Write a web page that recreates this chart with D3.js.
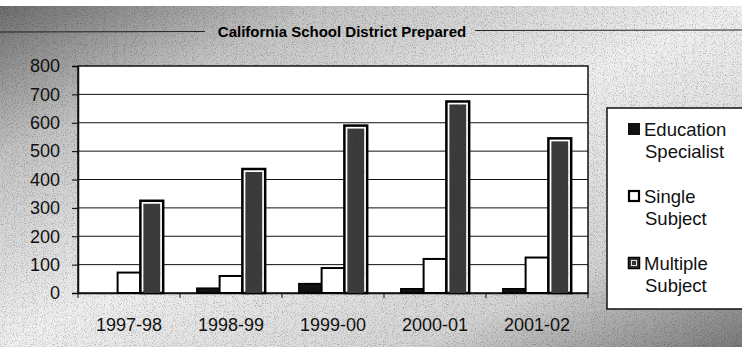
<!DOCTYPE html>
<html>
<head>
<meta charset="utf-8">
<script src="https://cdn.jsdelivr.net/npm/d3@7"></script>
<style>
  body { margin: 0; background: #fff; }
  svg { display: block; font-family: Arial, "Liberation Sans", sans-serif; }
</style>
</head>
<body>
<div id="app"></div>
<script>
const years = ["1997-98", "1998-99", "1999-00", "2000-01", "2001-02"];
const seriesNames = ["Education Specialist", "Single Subject", "Multiple Subject"];
const eduSpecialist = [0, 17, 33, 15, 15];
const singleSubject = [72, 60, 88, 120, 125];
const multipleSubject = [325, 437, 590, 675, 545];
const yTicks = [0, 100, 200, 300, 400, 500, 600, 700, 800];

const width = 742, height = 347;
const plot = { left: 78, right: 588, top: 66, bottom: 293 };
const font = "Arial, 'Liberation Sans', sans-serif";

const svg = d3.select("#app").append("svg").attr("width", width).attr("height", height);
const defs = svg.append("defs");

// scanned-paper look: grey gradient plus speckle noise
const grad = defs.append("linearGradient").attr("id", "bg").attr("x1", 0).attr("y1", 0).attr("x2", 1).attr("y2", 1);
grad.append("stop").attr("offset", "0%").attr("stop-color", "#6e6e6e");
grad.append("stop").attr("offset", "22%").attr("stop-color", "#c4c4c4");
grad.append("stop").attr("offset", "50%").attr("stop-color", "#f0f0f0");
grad.append("stop").attr("offset", "78%").attr("stop-color", "#d4d4d4");
grad.append("stop").attr("offset", "100%").attr("stop-color", "#7a7a7a");

const noise = defs.append("filter").attr("id", "noise")
  .attr("x", 0).attr("y", 0).attr("width", 1).attr("height", 1);
noise.append("feTurbulence").attr("type", "fractalNoise").attr("baseFrequency", 0.9).attr("numOctaves", 2).attr("result", "t");
noise.append("feColorMatrix").attr("type", "matrix")
  .attr("values", "0 0 0 0 0  0 0 0 0 0  0 0 0 0 0  0 0 0 -2.2 1.1");

svg.append("rect").attr("y", 6).attr("width", width).attr("height", height - 6).attr("fill", "url(#bg)");
svg.append("rect").attr("y", 6).attr("width", width).attr("height", height - 6).attr("filter", "url(#noise)").attr("opacity", 0.35);

// top border line of the chart area (hidden behind the title)
svg.append("line").attr("x1", 0).attr("x2", 205).attr("y1", 32).attr("y2", 31.5)
  .attr("stroke", "#222").attr("stroke-width", 1);
svg.append("line").attr("x1", 475).attr("x2", width).attr("y1", 30.5).attr("y2", 30)
  .attr("stroke", "#222").attr("stroke-width", 1);

svg.append("text")
  .attr("x", 342).attr("y", 37)
  .attr("text-anchor", "middle")
  .attr("font-size", 15).attr("font-weight", "bold")
  .attr("fill", "#000")
  .text("California School District Prepared");

const x0 = d3.scaleBand().domain(years).range([plot.left, plot.right]).paddingInner(0.33).paddingOuter(0.165);
const x1 = d3.scaleBand().domain(seriesNames).range([0, x0.bandwidth()]);
const y = d3.scaleLinear().domain([0, 800]).range([plot.bottom, plot.top]);

svg.append("rect")
  .attr("x", plot.left).attr("y", plot.top)
  .attr("width", plot.right - plot.left).attr("height", plot.bottom - plot.top)
  .attr("fill", "#fff").attr("stroke", "#111").attr("stroke-width", 1.5);

svg.append("g").selectAll("line").data(yTicks.slice(1, -1)).join("line")
  .attr("x1", plot.left).attr("x2", plot.right)
  .attr("y1", d => y(d)).attr("y2", d => y(d))
  .attr("stroke", "#111").attr("stroke-width", 1);

const yAxis = svg.append("g").attr("transform", `translate(${plot.left},0)`)
  .call(d3.axisLeft(y).tickValues(yTicks).tickSize(6).tickPadding(12));
yAxis.select(".domain").attr("stroke", "#111").attr("stroke-width", 1.5);
yAxis.selectAll("text").attr("font-size", 18).attr("fill", "#111").attr("font-family", font);

const xAxis = svg.append("g").attr("transform", `translate(0,${plot.bottom})`)
  .call(d3.axisBottom(x0).tickSize(0).tickPadding(25));
xAxis.select(".domain").attr("stroke", "#111").attr("stroke-width", 1.5);
xAxis.selectAll("text").attr("font-size", 18).attr("fill", "#111").attr("font-family", font);
const step = x0.step();
svg.append("g").selectAll("line").data(d3.range(years.length + 1)).join("line")
  .attr("x1", i => plot.left + i * step).attr("x2", i => plot.left + i * step)
  .attr("y1", plot.bottom).attr("y2", plot.bottom + 5)
  .attr("stroke", "#111");

const rows = years.map((yr, i) => ({
  year: yr,
  values: [eduSpecialist[i], singleSubject[i], multipleSubject[i]]
}));

const groups = svg.append("g").selectAll("g").data(rows).join("g")
  .attr("transform", d => `translate(${x0(d.year)},0)`);

groups.selectAll("g").data(d => d.values.map((v, k) => ({ name: seriesNames[k], k, v }))).join("g")
  .each(function (d) {
    const g = d3.select(this);
    const bx = x1(d.name), bw = x1.bandwidth();
    const top = y(d.v), h = plot.bottom - top;
    if (h <= 0) return;
    if (d.k === 0) {
      g.append("rect").attr("x", bx).attr("y", top).attr("width", bw).attr("height", h)
        .attr("fill", "#111").attr("stroke", "#000").attr("stroke-width", 1.5);
    } else if (d.k === 1) {
      g.append("rect").attr("x", bx).attr("y", top).attr("width", bw).attr("height", h)
        .attr("fill", "#fff").attr("stroke", "#000").attr("stroke-width", 2);
    } else {
      g.append("rect").attr("x", bx).attr("y", top).attr("width", bw).attr("height", h)
        .attr("fill", "#fff").attr("stroke", "#000").attr("stroke-width", 2.5);
      g.append("rect").attr("x", bx + 3).attr("y", top + 3).attr("width", bw - 6).attr("height", h - 3)
        .attr("fill", "#3c3c3c");
      g.append("rect").attr("x", bx + 3).attr("y", top + 3).attr("width", bw - 6).attr("height", h - 3)
        .attr("filter", "url(#noise)").attr("opacity", 0.2);
    }
  });

// legend
const legend = svg.append("g");
legend.append("rect").attr("x", 607).attr("y", 108).attr("width", 142).attr("height", 201)
  .attr("fill", "#fff").attr("stroke", "#111").attr("stroke-width", 1.5);

const legendItems = [
  { lines: ["Education", "Specialist"], y: 136 },
  { lines: ["Single", "Subject"], y: 203 },
  { lines: ["Multiple", "Subject"], y: 270 }
];
legendItems.forEach((it, k) => {
  const sy = it.y - 13;
  if (k === 0) {
    legend.append("rect").attr("x", 628).attr("y", sy).attr("width", 12).attr("height", 12).attr("fill", "#111");
  } else if (k === 1) {
    legend.append("rect").attr("x", 629).attr("y", sy + 1).attr("width", 10).attr("height", 10)
      .attr("fill", "#fff").attr("stroke", "#000").attr("stroke-width", 2.2);
  } else {
    legend.append("rect").attr("x", 628.5).attr("y", sy + 0.5).attr("width", 11).attr("height", 11)
      .attr("fill", "#333").attr("stroke", "#000").attr("stroke-width", 1.5);
    legend.append("rect").attr("x", 631.5).attr("y", sy + 3.5).attr("width", 5).attr("height", 5)
      .attr("fill", "none").attr("stroke", "#ddd").attr("stroke-width", 1);
  }
  const t = legend.append("text").attr("font-size", 18.5).attr("fill", "#111").attr("font-family", font);
  t.append("tspan").attr("x", 644).attr("y", it.y).text(it.lines[0]);
  t.append("tspan").attr("x", 645).attr("y", it.y + 22).text(it.lines[1]);
});
</script>
</body>
</html>
